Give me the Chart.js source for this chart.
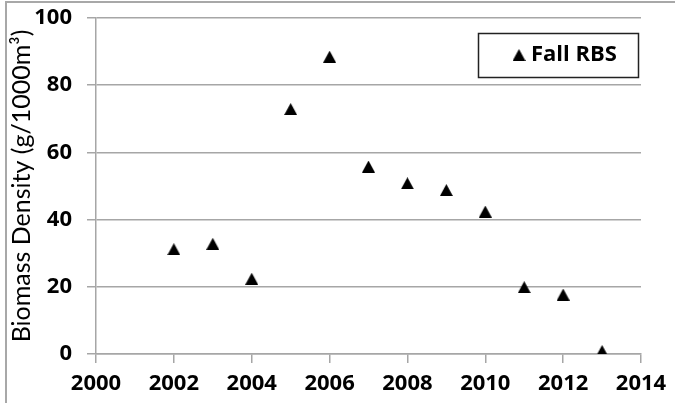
<!DOCTYPE html>
<html>
<head>
<meta charset="utf-8">
<script src="https://cdn.jsdelivr.net/npm/chart.js@4/dist/chart.umd.min.js"></script>
<style>
  html, body { margin: 0; padding: 0; background: #fff; }
  #wrap { width: 675px; height: 403px; position: relative; }
</style>
</head>
<body>
<div id="wrap"><canvas id="chart" width="675" height="403"></canvas></div>
<script>
// Fall RBS biomass density by survey year
const years = [2002, 2003, 2004, 2005, 2006, 2007, 2008, 2009, 2010, 2011, 2012, 2013];
const biomass = [31.2, 32.8, 22.4, 72.9, 88.5, 55.8, 50.8, 48.8, 42.4, 19.9, 17.7, 0.9];
const seriesName = 'Fall RBS';
const yTitle = 'Biomass Density (g/1000m\u00B3)';
const xTicks = [2000, 2002, 2004, 2006, 2008, 2010, 2012, 2014];
const yTicks = [0, 20, 40, 60, 80, 100];

const BOLD_FONT = '"Open Sans", "Liberation Sans", sans-serif';
const TITLE_FONT = 'Lato, "Open Sans", sans-serif';
const GRID = '#a6a6a6';

// Solid triangle marker, centred on its bounding box
function makeTriangle(w, h) {
  const c = document.createElement('canvas');
  c.width = w; c.height = h;
  const g = c.getContext('2d');
  g.fillStyle = '#000';
  g.beginPath();
  g.moveTo(w / 2, 0);
  g.lineTo(w, h);
  g.lineTo(0, h);
  g.closePath();
  g.fill();
  return c;
}
const tri = makeTriangle(13, 12);

const points = years.map((y, i) => ({ x: y, y: biomass[i] }));

// Outer frame edges and the boxed legend
const decor = {
  id: 'decor',
  beforeDraw(chart) {
    const ctx = chart.ctx;
    ctx.save();
    ctx.fillStyle = '#fff';
    ctx.fillRect(0, 0, chart.width, chart.height);
    ctx.strokeStyle = '#a8a8a8';
    ctx.lineWidth = 2;
    ctx.beginPath();
    ctx.moveTo(6, chart.height);
    ctx.lineTo(6, 2);
    ctx.lineTo(chart.width, 2);
    ctx.stroke();
    ctx.restore();
  },
  afterDraw(chart) {
    const ctx = chart.ctx;
    ctx.save();
    ctx.strokeStyle = '#222';
    ctx.lineWidth = 1.5;
    ctx.strokeRect(478.5, 33.5, 160, 44);
    ctx.drawImage(tri, 519 - 6.5, 55 - 6);
    ctx.fillStyle = '#000';
    ctx.font = 'bold 22px ' + BOLD_FONT;
    ctx.textBaseline = 'middle';
    ctx.textAlign = 'left';
    ctx.fillText(seriesName, 531, 55);
    ctx.restore();
  }
};

new Chart(document.getElementById('chart'), {
  type: 'scatter',
  data: {
    datasets: [{
      label: seriesName,
      data: points,
      pointStyle: tri,
      pointRadius: 7,
      pointHoverRadius: 7,
      backgroundColor: '#000',
      borderColor: '#000'
    }]
  },
  options: {
    responsive: false,
    animation: false,
    events: [],
    layout: { autoPadding: false, padding: { left: 0, top: 18, right: 34, bottom: 0 } },
    plugins: { legend: { display: false }, tooltip: { enabled: false } },
    scales: {
      x: {
        type: 'linear',
        min: xTicks[0],
        max: xTicks[xTicks.length - 1],
        afterBuildTicks(scale) { scale.ticks = xTicks.map(v => ({ value: v })); },
        afterFit(scale) { scale.height = 49; scale.paddingLeft = 0; scale.paddingRight = 0; },
        ticks: {
          color: '#000',
          font: { family: BOLD_FONT, size: 22, weight: 'bold' },
          padding: 8,
          maxRotation: 0,
          autoSkip: false,
          callback: v => String(v)
        },
        grid: { drawOnChartArea: false, drawTicks: true, tickLength: 9, color: GRID, lineWidth: 1.5 },
        border: { color: GRID, width: 1.5 }
      },
      y: {
        min: yTicks[0],
        max: yTicks[yTicks.length - 1],
        afterBuildTicks(scale) { scale.ticks = yTicks.map(v => ({ value: v })); },
        afterFit(scale) { scale.width = 96; scale.paddingTop = 0; scale.paddingBottom = 0; },
        ticks: {
          color: '#000',
          font: { family: BOLD_FONT, size: 22, weight: 'bold' },
          padding: 15,
          callback: v => String(v)
        },
        grid: { color: GRID, lineWidth: 1.5, tickLength: 9 },
        border: { color: GRID, width: 1.5 },
        title: {
          display: true,
          text: yTitle,
          color: '#000',
          font: { family: TITLE_FONT, size: 25, weight: 'normal' },
          padding: { top: 7, bottom: 0 }
        }
      }
    }
  },
  plugins: [decor]
});
</script>
</body>
</html>
